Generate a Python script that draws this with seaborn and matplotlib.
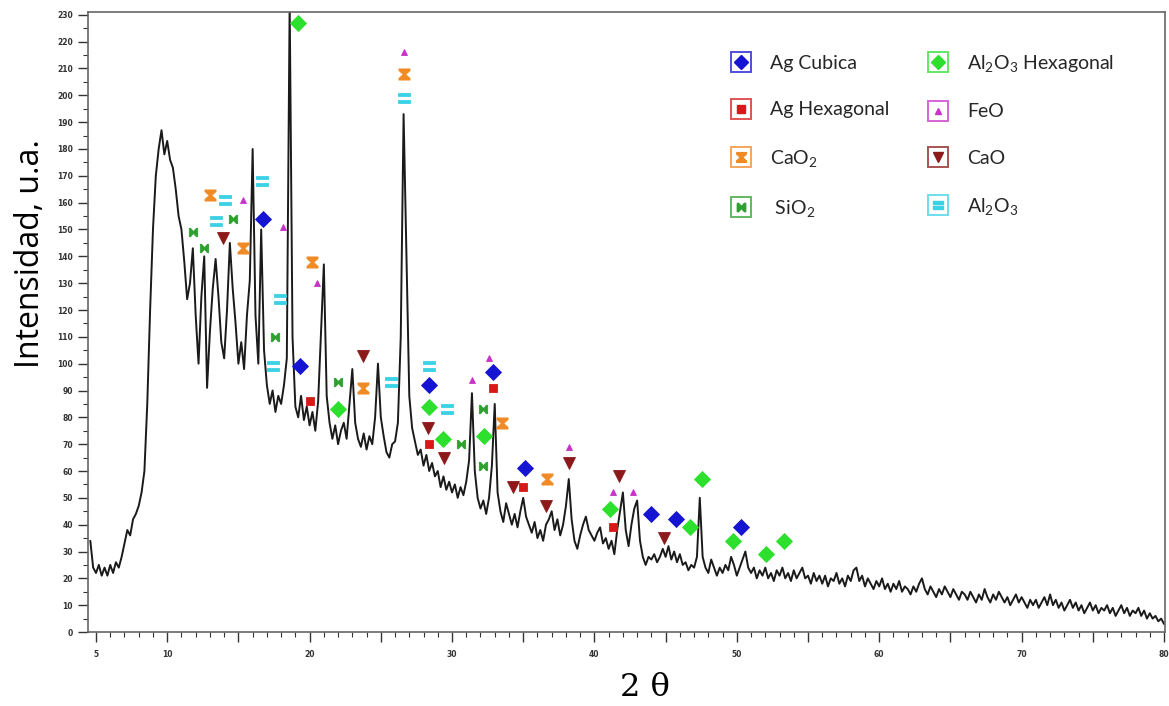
import numpy as np
import matplotlib
matplotlib.use('Agg')
import matplotlib.pyplot as plt
from matplotlib.path import Path
from matplotlib.lines import Line2D
from matplotlib.ticker import MultipleLocator, FuncFormatter
import seaborn as sns

# difractograma, paso de barrido 0.2 grados desde 4.6
scan_start = 4.6
scan_step = 0.2
intensity = [
    34, 24,
    22, 25, 21, 24, 21,      # 5
    25, 22, 26, 24, 28,      # 6
    33, 38, 36, 42, 44,      # 7
    47, 52, 60, 85, 120,     # 8
    150, 170, 180, 187, 178,  # 9
    183, 176, 173, 165, 155,  # 10
    150, 138, 124, 130, 143,  # 11
    118, 100, 125, 140, 91,   # 12
    112, 128, 139, 125, 108,  # 13
    102, 120, 145, 128, 115,  # 14
    100, 108, 98, 118, 131,   # 15
    180, 118, 100, 150, 105,  # 16
    92, 85, 90, 82, 88,       # 17
    85, 92, 102, 235, 110,    # 18
    84, 80, 88, 79, 84,       # 19
    77, 82, 75, 86, 112,      # 20
    137, 88, 78, 72, 77,      # 21
    70, 75, 78, 72, 85,       # 22
    98, 78, 72, 69, 74,       # 23
    68, 73, 70, 80, 100,      # 24
    80, 73, 67, 65, 70,       # 25
    71, 78, 110, 193, 140,    # 26
    88, 76, 71, 66, 68,       # 27
    62, 66, 60, 63, 58,       # 28
    60, 54, 58, 53, 56,       # 29
    52, 55, 50, 54, 51,       # 30
    56, 64, 89, 60, 50,       # 31
    46, 49, 44, 50, 62,       # 32
    85, 52, 45, 41, 48,       # 33
    44, 40, 44, 39, 45,       # 34
    50, 43, 40, 37, 41,       # 35
    35, 38, 34, 40, 42,       # 36
    45, 38, 42, 36, 40,       # 37
    47, 57, 42, 34, 31,       # 38
    36, 40, 43, 38, 36,       # 39
    34, 37, 39, 33, 35,       # 40
    31, 34, 29, 38, 45,       # 41
    52, 38, 32, 40, 46,       # 42
    49, 34, 28, 25, 28,       # 43
    27, 29, 26, 28, 31,       # 44
    28, 32, 27, 30, 26,       # 45
    29, 25, 26, 23, 25,       # 46
    24, 28, 50, 28, 24,       # 47
    22, 27, 24, 21, 24,       # 48
    22, 25, 23, 28, 25,       # 49
    21, 24, 27, 30, 24,       # 50
    22, 24, 20, 23, 21,       # 51
    24, 20, 22, 19, 23,       # 52
    21, 24, 20, 22, 19,       # 53
    23, 20, 22, 24, 20,       # 54
    21, 18, 22, 19, 21,       # 55
    18, 21, 17, 20, 19,       # 56
    22, 18, 20, 17, 21,       # 57
    19, 23, 24, 19, 21,       # 58
    17, 20, 18, 16, 19,       # 59
    17, 20, 16, 18, 15,       # 60
    18, 16, 19, 15, 17,       # 61
    16, 14, 17, 15, 18,       # 62
    20, 16, 14, 17, 15,       # 63
    13, 16, 14, 17, 15,       # 64
    13, 16, 14, 12, 15,       # 65
    14, 12, 15, 13, 11,       # 66
    14, 12, 16, 13, 11,       # 67
    14, 12, 15, 13, 11,       # 68
    13, 10, 12, 14, 11,       # 69
    13, 11, 9, 12, 10,        # 70
    12, 9, 11, 13, 10,        # 71
    14, 10, 12, 9, 11,        # 72
    8, 10, 12, 9, 11,         # 73
    8, 10, 7, 9, 11,          # 74
    8, 10, 7, 9, 8,           # 75
    10, 7, 9, 6, 8,           # 76
    10, 7, 9, 6, 8,           # 77
    7, 9, 6, 8, 5,            # 78
    7, 5, 6, 4, 5,            # 79
    3,
]
two_theta = scan_start + scan_step * np.arange(len(intensity))

# posiciones de las fases identificadas (2theta, intensidad)
ag_cub_x = [16.7, 19.3, 28.4, 32.9, 35.1, 44.0, 45.7, 50.3]
ag_cub_y = [154, 99, 92, 97, 61, 44, 42, 39]
ag_hex_x = [20.0, 28.4, 32.9, 35.0, 41.3]
ag_hex_y = [86, 70, 91, 54, 39]
cao2_x = [13.0, 15.3, 20.2, 23.75, 26.6, 33.5, 36.7]
cao2_y = [163, 143, 138, 91, 208, 78, 57]
sio2_x = [11.8, 12.6, 14.6, 17.6, 22.0, 30.6, 32.2, 32.2]
sio2_y = [149, 143, 154, 110, 93, 70, 83, 62]
al2o3_hex_x = [19.2, 22.0, 28.4, 29.4, 32.25, 41.1, 46.7, 47.55, 49.7, 52.05, 53.3]
al2o3_hex_y = [227, 83, 84, 72, 73, 46, 39, 57, 34, 29, 34]
feo_x = [15.3, 18.1, 20.5, 26.6, 31.4, 32.6, 38.2, 41.3, 42.7]
feo_y = [161, 151, 130, 216, 94, 102, 69, 52, 52]
cao_x = [13.9, 23.75, 28.3, 29.45, 34.25, 36.6, 38.2, 41.7, 44.9]
cao_y = [147, 103, 76, 65, 54, 47, 63, 58, 35]
al2o3_x = [13.4, 14.05, 16.65, 17.4, 17.9, 25.7, 26.6, 28.4, 29.65]
al2o3_y = [153, 161, 168, 99, 124, 93, 199, 99, 83]

# marcadores propios
hourglass = [(-1, 1), (1, 1), (1, 0.7), (0.22, 0), (1, -0.7), (1, -1),
             (-1, -1), (-1, -0.7), (-0.22, 0), (-1, 0.7), (-1, 1)]
bowtie = [(-1, 1), (-0.7, 1), (0, 0.22), (0.7, 1), (1, 1), (1, -1),
          (0.7, -1), (0, -0.22), (-0.7, -1), (-1, -1), (-1, 1)]
eq_verts = [(-1, 0.25), (1, 0.25), (1, 0.85), (-1, 0.85), (-1, 0.25),
            (-1, -0.85), (1, -0.85), (1, -0.25), (-1, -0.25), (-1, -0.85)]
eq_codes = [Path.MOVETO, Path.LINETO, Path.LINETO, Path.LINETO, Path.CLOSEPOLY] * 2
equals = Path(eq_verts, eq_codes)

phases = [
    ('Ag Cubica', ag_cub_x, ag_cub_y, 'D', '#1414d2', 8),
    ('Ag Hexagonal', ag_hex_x, ag_hex_y, 's', '#d61a1a', 5.5),
    ('CaO$_2$', cao2_x, cao2_y, hourglass, '#f08a24', 8),
    (' SiO$_2$', sio2_x, sio2_y, bowtie, '#2ea02e', 6),
    ('Al$_2$O$_3$ Hexagonal', al2o3_hex_x, al2o3_hex_y, 'D', '#2ee02e', 8.5),
    ('FeO', feo_x, feo_y, '^', '#c832c8', 5),
    ('CaO', cao_x, cao_y, 'v', '#8c1a1a', 8),
    ('Al$_2$O$_3$', al2o3_x, al2o3_y, equals, '#3cd2e6', 9),
]

sns.set_style('ticks')
plt.rcParams['font.family'] = ['Lato', 'DejaVu Sans']
plt.rcParams['mathtext.default'] = 'regular'

fig = plt.figure(figsize=(11.69, 7.06), dpi=100)
ax = fig.add_axes([0.0753, 0.1048, 0.9213, 0.878])

sns.lineplot(x=two_theta, y=intensity, ax=ax, color='#1a1a1a',
             linewidth=1.4, estimator=None, sort=False)

handles = []
for label, xs, ys, mk, col, ms in phases:
    ax.plot(xs, ys, linestyle='none', marker=mk, color=col,
            markersize=ms, markeredgewidth=0.6, zorder=4)
    box = Line2D([], [], linestyle='none', marker='s', markersize=15,
                 markerfacecolor='none', markeredgecolor=col,
                 markeredgewidth=1.4, alpha=0.75)
    inner = Line2D([], [], linestyle='none', marker=mk, color=col,
                   markersize=min(ms, 7))
    handles.append(((box, inner), label))

ax.set_xlim(4.44, 80.07)
ax.set_ylim(0, 231)
ax.xaxis.set_major_locator(MultipleLocator(5))
ax.xaxis.set_minor_locator(MultipleLocator(1))
ax.yaxis.set_major_locator(MultipleLocator(10))
ax.yaxis.set_minor_locator(MultipleLocator(5))
ax.xaxis.set_major_formatter(FuncFormatter(
    lambda v, p: str(int(round(v))) if (round(v) % 10 == 0 or round(v) == 5) else ''))
ax.yaxis.set_major_formatter(FuncFormatter(lambda v, p: str(int(round(v)))))

ax.tick_params(axis='both', which='major', labelsize=5.5, colors='#333333',
               direction='out', length=7, width=1.0, pad=4,
               bottom=True, left=True, top=False, right=False)
ax.tick_params(axis='both', which='minor', direction='out', length=3.5,
               width=0.8, colors='#333333', bottom=True, left=True,
               top=False, right=False)
ax.tick_params(axis='x', which='major', pad=6)
for t in ax.get_xticklabels() + ax.get_yticklabels():
    t.set_fontweight('bold')
    t.set_family('DejaVu Sans')

for s in ax.spines.values():
    s.set_color('#666666')
    s.set_linewidth(1.2)

ax.set_ylabel('Intensidad, u.a.', fontsize=23, family='Open Sans', color='black')
ax.yaxis.set_label_coords(-0.038, 0.61)
ax.set_xlabel('2 θ', fontsize=23, family='DejaVu Serif', color='black')
ax.xaxis.set_label_coords(0.517, -0.065)

leg = ax.legend([h for h, _ in handles], [l for _, l in handles],
                ncol=2, loc='upper left', bbox_to_anchor=(0.579, 0.962),
                frameon=False, fontsize=14, labelspacing=1.5,
                handlelength=1.2, handletextpad=0.9, columnspacing=1.9)

fig.savefig('out.png', dpi=100)
